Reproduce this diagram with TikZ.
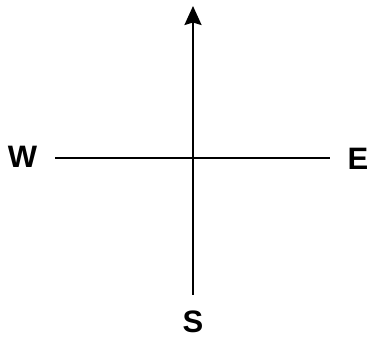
\documentclass[tikz,border=0pt]{standalone}
\usepackage{fontspec}
\setmainfont{Liberation Sans}
\usetikzlibrary{arrows.meta}
\begin{document}
\begin{tikzpicture}[
      x=1pt, y=1pt,
      every node/.style={font=\fontsize{31}{31}\selectfont\bfseries, inner sep=0pt},
      axis/.style={line width=2.2pt},
      arrow/.style={axis, -{Stealth[length=19pt, width=17pt, inset=2.5pt]}}
    ]
      \useasboundingbox (0,0) rectangle (367,343);

      % Labels
      \node (west) at (22.5,186) {W};
      \node (east) at (358,184) {E};
      \node (south) at (193,21) {S};

      % Line ends
      \coordinate (left) at (55,185);
      \coordinate (right) at (330,185);
      \coordinate (bottom) at (193,48);
      \coordinate (top) at (193,337);

      % Axes
      \draw[axis] (left) -- (right);
      \draw[arrow] (bottom) -- (top);
    \end{tikzpicture}
\end{document}
